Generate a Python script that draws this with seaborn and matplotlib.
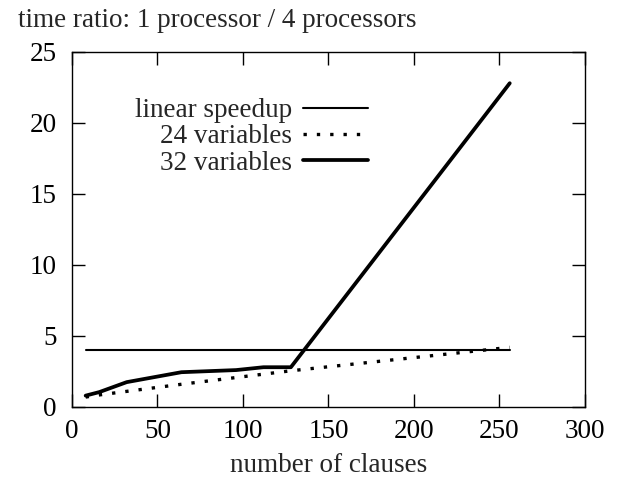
import seaborn as sns
import pandas as pd
import matplotlib.pyplot as plt

# values
linear_x = [8, 256]
linear_y = [4, 4]

vars24_x = [8, 16, 32, 64, 128, 256]
vars24_y = [0.7, 0.85, 1.1, 1.6, 2.55, 4.2]

vars32_x = [8, 16, 32, 64, 96, 112, 128, 256]
vars32_y = [0.8, 1.05, 1.75, 2.45, 2.6, 2.8, 2.8, 22.8]

sns.set_style('ticks')
plt.rcParams['font.family'] = ['Liberation Serif', 'DejaVu Serif']
fs = 19.5

fig = plt.figure(figsize=(6.21, 4.88), dpi=100)
ax = fig.add_axes([0.1159, 0.166, 0.8261, 0.7275])

df_lin = pd.DataFrame({'x': linear_x, 'y': linear_y})
df24 = pd.DataFrame({'x': vars24_x, 'y': vars24_y})
df32 = pd.DataFrame({'x': vars32_x, 'y': vars32_y})

sns.lineplot(ax=ax, data=df_lin, x='x', y='y', color='black', linewidth=1.5,
             label='linear speedup')
sns.lineplot(ax=ax, data=df24, x='x', y='y', color='black', linewidth=2.4,
             label='24 variables')
ax.lines[-1].set_dashes((1, 3))
ax.lines[-1].set_dash_capstyle('butt')
sns.lineplot(ax=ax, data=df32, x='x', y='y', color='black', linewidth=2.7,
             label='32 variables')

ax.set(xlim=(0, 300), ylim=(0, 25), ylabel='')
ax.set_xlabel('number of clauses', fontsize=fs, labelpad=6)
ax.set_xticks(range(0, 301, 50))
ax.set_yticks(range(0, 26, 5))
ax.tick_params(axis='both', direction='in', length=9.4, width=1.0,
               top=True, right=True, labelsize=fs, colors='black')
ax.tick_params(axis='y', pad=11)
ax.tick_params(axis='x', pad=9)
for s in ax.spines.values():
    s.set_linewidth(1.0)
    s.set_color('black')

# right-aligned labels with the sample line after the text
ax.legend(loc='upper right', bbox_to_anchor=(0.577, 0.87), frameon=False,
          markerfirst=False, handlelength=2.4, handletextpad=0.4,
          labelspacing=0.05, borderaxespad=0, borderpad=0, fontsize=fs)

fig.text(0.029, 0.9447, 'time ratio: 1 processor / 4 processors', fontsize=fs,
         ha='left', va='baseline')

plt.savefig('out.png', dpi=100)
plt.close(fig)
